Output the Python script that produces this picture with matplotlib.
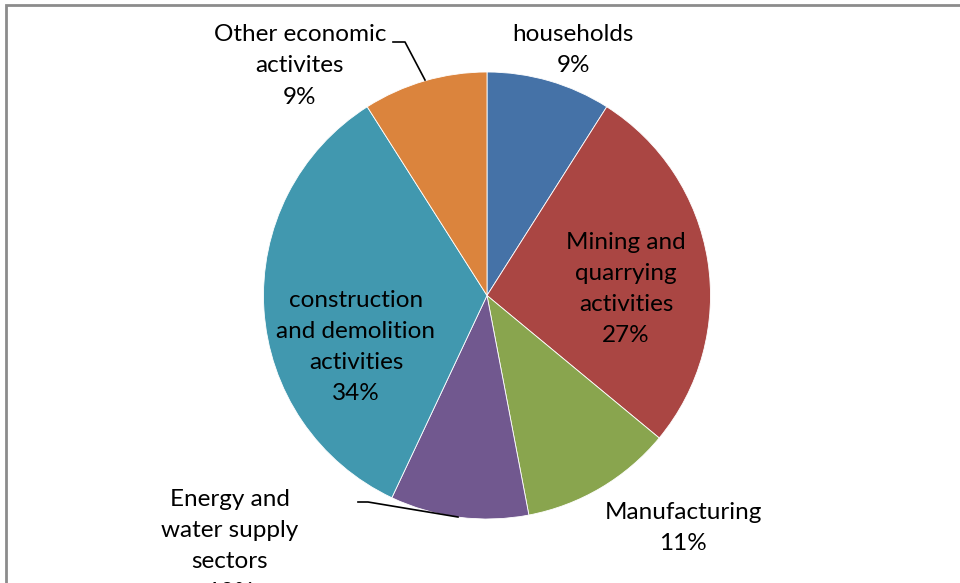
import matplotlib
matplotlib.use("Agg")
import matplotlib.pyplot as plt
from matplotlib.patches import Rectangle

# Share of each sector (%), clockwise from 12 o'clock
sectors = ["households", "Mining and\nquarrying\nactivities", "Manufacturing",
           "Energy and\nwater supply\nsectors", "construction\nand demolition\nactivities",
           "Other economic\nactivites"]
shares = [9, 27, 11, 10, 34, 9]
colors = ["#4572A7", "#AA4643", "#89A54E", "#71588F", "#4198AF", "#DB843D"]

# label centres in pixels (x, y measured from the top)
label_pos = [(573, 50), (626, 289), (683, 528), (230, 546), (356, 347), (300, 66)]

W, H = 960, 583
fig = plt.figure(figsize=(W / 100, H / 100), dpi=100)
ax = fig.add_axes([0, 0, 1, 1])

cx, cy, r = 487, H - 295.5, 223.5
ax.pie(shares, colors=colors, startangle=90, counterclock=False,
       center=(cx, cy), radius=r, frame=True,
       wedgeprops=dict(linewidth=0.6, edgecolor="white"))
ax.set_xlim(0, W)
ax.set_ylim(0, H)
ax.set_aspect("equal")
ax.axis("off")

for name, val, (x, y) in zip(sectors, shares, label_pos):
    ax.text(x, H - y, f"{name}\n{val}%", ha="center", va="center",
            fontsize=17.5, family="Lato", linespacing=1.6, color="black")

# leader lines for the two outside labels
ax.plot([393, 405, 425], [H - 42, H - 42, H - 80], color="black", lw=1.2)
ax.plot([358, 368, 458], [H - 502, H - 502, H - 517], color="black", lw=1.2)

# chart border
fig.patches.append(Rectangle((6 / W, -0.1), 1.1, 1 - 5 / H + 0.1,
                             transform=fig.transFigure, fill=False,
                             edgecolor="#8c8c8c", linewidth=2))

fig.savefig("out.png", dpi=100)
